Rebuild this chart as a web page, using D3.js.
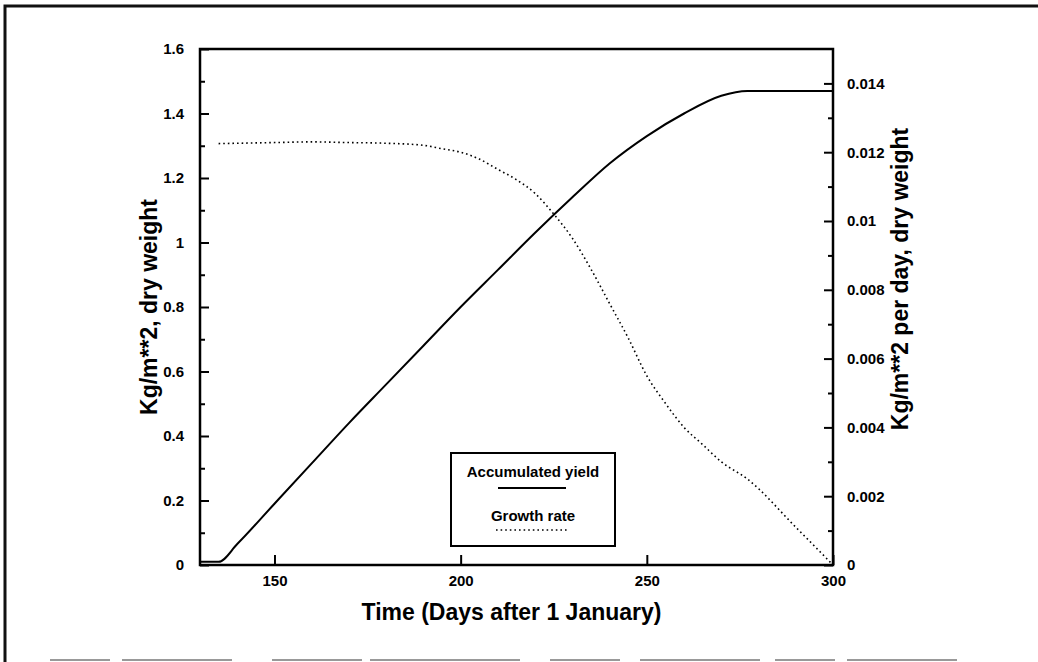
<!DOCTYPE html>
<html>
<head>
<meta charset="utf-8">
<script src="https://cdn.jsdelivr.net/npm/d3@7"></script>
<style>
  body { margin: 0; background: #fff; }
  svg { display: block; }
  .tick text { font-family: 'Liberation Sans Narrow', 'Arial Narrow', 'Liberation Sans', sans-serif; font-weight: bold; font-size: 15px; fill: #000; }
  .axis path, .axis line { stroke: #000; }
  .title { font-family: 'Liberation Sans', Arial, sans-serif; font-weight: bold; font-size: 23px; fill: #000; }
  .legend text { font-family: 'Liberation Sans Narrow', 'Arial Narrow', sans-serif; font-weight: bold; font-size: 15px; }
</style>
</head>
<body>
<div id="chart"></div>
<script>
// accumulated yield, Kg/m**2 (left axis)
var yieldDays = [130, 135, 140, 150, 160, 170, 180, 190, 200, 210, 220, 230, 240, 250, 260, 270, 277, 300]
var yieldValues = [0.01, 0.01, 0.065, 0.19, 0.315, 0.44, 0.56, 0.68, 0.80, 0.915, 1.03, 1.14, 1.245, 1.33, 1.40, 1.455, 1.47, 1.47]

// growth rate, Kg/m**2 per day (right axis)
var rateDays = [135, 150, 160, 170, 180, 190, 195, 200, 205, 210, 215, 220, 225, 230, 235, 240, 245, 250, 255, 260, 265, 270, 277, 290, 300]
var rateValues = [0.01225, 0.01228, 0.0123, 0.01228, 0.01226, 0.0122, 0.0121, 0.0120, 0.0118, 0.0115, 0.0112, 0.0108, 0.0102, 0.0095, 0.0086, 0.0076, 0.0066, 0.0055, 0.0047, 0.0040, 0.0035, 0.0030, 0.0025, 0.0011, 0]

var xTicks = [150, 200, 250, 300]
var leftTicks = [0, 0.2, 0.4, 0.6, 0.8, 1, 1.2, 1.4, 1.6]
var leftMinor = [0.1, 0.3, 0.5, 0.7, 0.9, 1.1, 1.3, 1.5]
var rightTicks = [0, 0.002, 0.004, 0.006, 0.008, 0.01, 0.012, 0.014]
var rightMinor = [0.001, 0.003, 0.005, 0.007, 0.009, 0.011, 0.013]

var legendLabels = ['Accumulated yield', 'Growth rate']

var svgWidth = 1038
var svgHeight = 662
var margin = {left: 200, right: 205, top: 49, bottom: 97}
var chartWidth = svgWidth - margin.left - margin.right
var chartHeight = svgHeight - margin.top - margin.bottom

var svg = d3.select('#chart')
  .append('svg')
  .attr('width', svgWidth)
  .attr('height', svgHeight)

// scanned page frame
svg.append('path')
  .attr('d', 'M5,662 L5,6 L1038,6')
  .attr('fill', 'none')
  .attr('stroke', '#111')
  .attr('stroke-width', 3)
svg.append('line')
  .attr('x1', 50).attr('x2', 960)
  .attr('y1', 660).attr('y2', 660)
  .attr('stroke', '#999')
  .attr('stroke-width', 2)
  .attr('stroke-dasharray', '60,12,110,40,90,8,150,30,70,20,120,15')

var chart = svg.append('g')
  .attr('transform', 'translate(' + margin.left + ',' + margin.top + ')')

var xScale = d3.scaleLinear().domain([130, 300]).range([0, chartWidth])
var yLeft = d3.scaleLinear().domain([0, 1.6]).range([chartHeight, 0])
var yRight = d3.scaleLinear().domain([0, 0.0150]).range([chartHeight, 0])

var xAxis = d3.axisBottom(xScale)
  .tickValues(xTicks)
  .tickSizeInner(-10)
  .tickSizeOuter(0)
  .tickPadding(10)
  .tickFormat(d3.format('d'))

var leftAxis = d3.axisLeft(yLeft)
  .tickValues(leftTicks)
  .tickSizeInner(-9)
  .tickSizeOuter(0)
  .tickPadding(16)
  .tickFormat(function (d) { return String(d) })

var rightAxis = d3.axisRight(yRight)
  .tickValues(rightTicks)
  .tickSizeInner(-9)
  .tickSizeOuter(0)
  .tickPadding(14)
  .tickFormat(function (d) { return String(+d.toFixed(3)) })

chart.append('g')
  .attr('class', 'axis')
  .attr('transform', 'translate(0,' + chartHeight + ')')
  .call(xAxis)

chart.append('g')
  .attr('class', 'axis')
  .call(leftAxis)

chart.append('g')
  .attr('class', 'axis')
  .attr('transform', 'translate(' + chartWidth + ',0)')
  .call(rightAxis)

// minor ticks
chart.append('g').attr('class', 'axis')
  .call(d3.axisLeft(yLeft).tickValues(leftMinor).tickSizeInner(-5).tickSizeOuter(0).tickFormat(''))
chart.append('g').attr('class', 'axis')
  .attr('transform', 'translate(' + chartWidth + ',0)')
  .call(d3.axisRight(yRight).tickValues(rightMinor).tickSizeInner(-5).tickSizeOuter(0).tickFormat(''))

chart.selectAll('.axis .domain').remove()
chart.selectAll('.axis line').attr('stroke-width', 2)

// plot frame
chart.append('rect')
  .attr('width', chartWidth)
  .attr('height', chartHeight)
  .attr('fill', 'none')
  .attr('stroke', '#000')
  .attr('stroke-width', 2.5)

var yieldLine = d3.line()
  .x(function (d, i) { return xScale(yieldDays[i]) })
  .y(function (d) { return yLeft(d) })
  .curve(d3.curveMonotoneX)

var rateLine = d3.line()
  .x(function (d, i) { return xScale(rateDays[i]) })
  .y(function (d) { return yRight(d) })
  .curve(d3.curveMonotoneX)

chart.append('path')
  .datum(yieldValues)
  .attr('d', yieldLine)
  .attr('fill', 'none')
  .attr('stroke', '#000')
  .attr('stroke-width', 2)

chart.append('path')
  .datum(rateValues)
  .attr('d', rateLine)
  .attr('fill', 'none')
  .attr('stroke', '#000')
  .attr('stroke-width', 1.6)
  .attr('stroke-dasharray', '1.6,3')

// axis titles
svg.append('text')
  .attr('class', 'title')
  .attr('text-anchor', 'middle')
  .attr('transform', 'translate(157,' + (margin.top + chartHeight / 2) + ') rotate(-90)')
  .text('Kg/m**2,  dry weight')

svg.append('text')
  .attr('class', 'title')
  .attr('text-anchor', 'middle')
  .attr('transform', 'translate(908,' + (margin.top + chartHeight / 2 - 28) + ') rotate(-90)')
  .text('Kg/m**2 per day,  dry weight')

svg.append('text')
  .attr('class', 'title')
  .attr('text-anchor', 'middle')
  .attr('x', margin.left + chartWidth / 2 - 5)
  .attr('y', 620)
  .text('Time (Days after 1 January)')

// legend
var legend = svg.append('g')
  .attr('class', 'legend')
  .attr('transform', 'translate(451,453)')

legend.append('rect')
  .attr('width', 164)
  .attr('height', 93)
  .attr('fill', '#fff')
  .attr('stroke', '#000')
  .attr('stroke-width', 2)

legend.selectAll('text')
  .data(legendLabels)
  .enter()
  .append('text')
  .attr('x', 82)
  .attr('y', function (d, i) { return 24 + i * 44 })
  .attr('text-anchor', 'middle')
  .text(function (d) { return d })

legend.append('line')
  .attr('x1', 47).attr('x2', 115)
  .attr('y1', 35).attr('y2', 35)
  .attr('stroke', '#000').attr('stroke-width', 2)

legend.append('line')
  .attr('x1', 45).attr('x2', 117)
  .attr('y1', 77).attr('y2', 77)
  .attr('stroke', '#000').attr('stroke-width', 1.6)
  .attr('stroke-dasharray', '1.6,3')
</script>
</body>
</html>
